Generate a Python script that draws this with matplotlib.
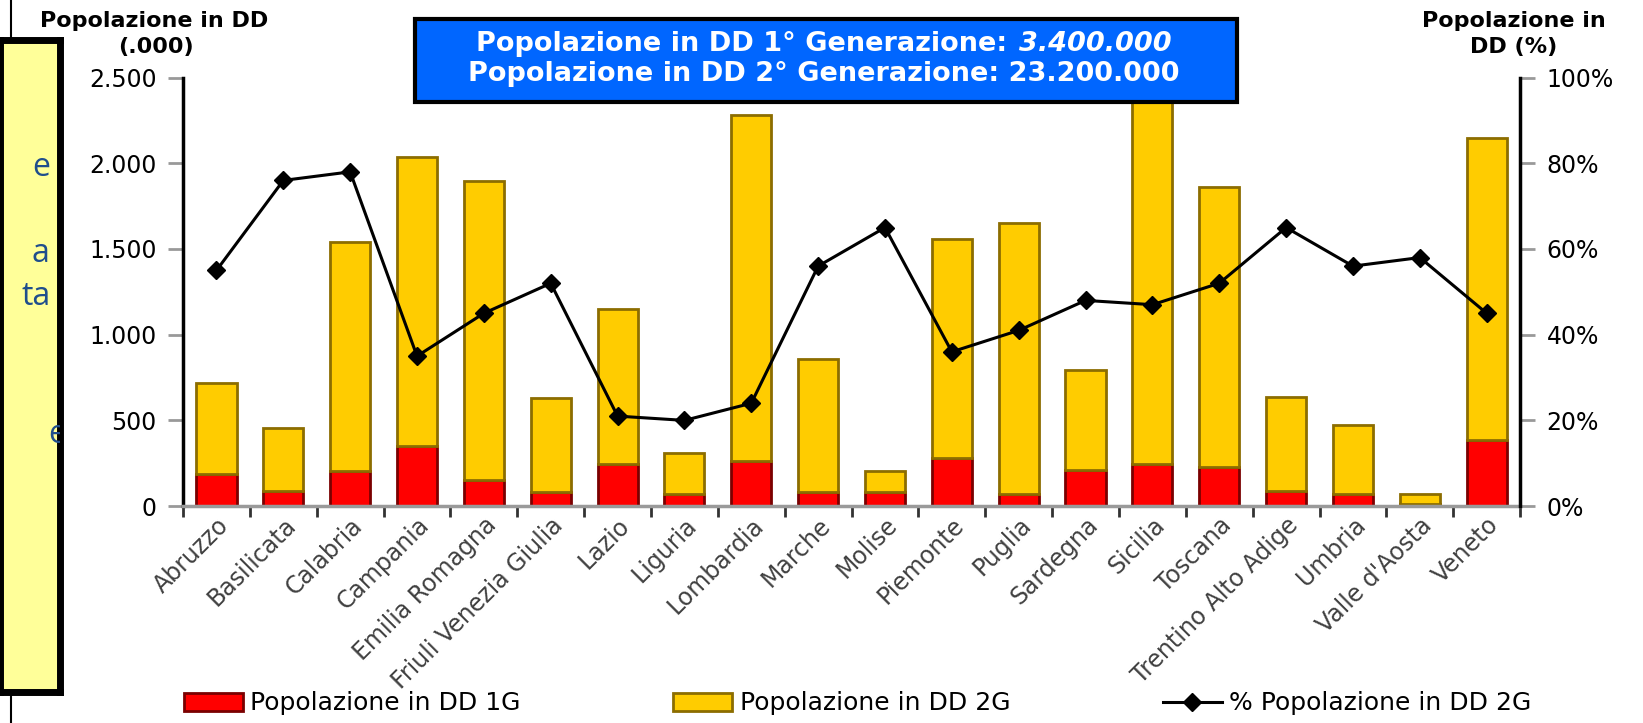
import numpy as np
import matplotlib
matplotlib.use("Agg")
import matplotlib.pyplot as plt
from matplotlib.patches import Rectangle, Patch
from matplotlib.lines import Line2D
from matplotlib.ticker import FuncFormatter
from matplotlib.transforms import ScaledTranslation

regioni = ["Abruzzo", "Basilicata", "Calabria", "Campania", "Emilia Romagna",
           "Friuli Venezia Giulia", "Lazio", "Liguria", "Lombardia", "Marche",
           "Molise", "Piemonte", "Puglia", "Sardegna", "Sicilia", "Toscana",
           "Trentino Alto Adige", "Umbria", "Valle d'Aosta", "Veneto"]
# popolazione in DD (.000)
pop_1g = [189, 91, 207, 348, 152, 85, 244, 73, 262, 85,
          85, 280, 73, 213, 244, 226, 91, 73, 12, 384]
pop_2g = [531, 366, 1336, 1689, 1744, 543, 908, 238, 2018, 775,
          122, 1281, 1579, 580, 2136, 1634, 543, 403, 61, 1762]
# % popolazione in DD 2G
perc_2g = [55, 76, 78, 35, 45, 52, 21, 20, 24, 56,
           65, 36, 41, 48, 47, 52, 65, 56, 58, 45]

plt.rcParams['font.family'] = ['DejaVu Sans']

fig = plt.figure(figsize=(16.43, 7.23), dpi=100)
ax = fig.add_axes([0.1114, 0.30, 0.8138, 0.5927])

x = np.arange(len(regioni))
w = 0.6
ax.bar(x, pop_1g, w, color='#FF0000', edgecolor='#7A0000', linewidth=2, zorder=2)
ax.bar(x, pop_2g, w, bottom=pop_1g, color='#FFCC00', edgecolor='#8C6D00',
       linewidth=2, zorder=2)

ax.set_xlim(-0.5, len(regioni) - 0.5)
ax.set_ylim(0, 2500)
ax.set_yticks(range(0, 2501, 500))
ax.yaxis.set_major_formatter(FuncFormatter(lambda v, p: f"{int(v):,}".replace(",", ".")))
ax.set_xticks(x)
ax.set_xticklabels(regioni, rotation=45, ha='right', rotation_mode='anchor',
                   fontsize=17, color='#404040')
for lbl in ax.get_xticklabels():
    lbl.set_transform(lbl.get_transform() + ScaledTranslation(-0.22, 0, fig.dpi_scale_trans))
ax.set_xticks(np.arange(len(regioni) + 1) - 0.5, minor=True)
ax.tick_params(axis='x', which='major', length=0, pad=5)
ax.tick_params(axis='x', which='minor', length=8, width=2, color='#333333')
ax.tick_params(axis='y', length=11, width=2, color='#999999', labelsize=17, pad=8)
ax.spines['top'].set_visible(False)
ax.spines['right'].set_visible(False)
ax.spines['left'].set_linewidth(2.5)
ax.spines['bottom'].set_color('#9a9a9a')
ax.spines['bottom'].set_linewidth(2.5)

ax2 = ax.twinx()
ax2.plot(x, np.array(perc_2g) / 100, color='black', lw=2.2, marker='D',
         markersize=9, zorder=3)
ax2.set_ylim(0, 1)
ax2.set_yticks(np.linspace(0, 1, 6))
ax2.yaxis.set_major_formatter(FuncFormatter(lambda v, p: f"{v * 100:.0f}%"))
ax2.tick_params(axis='y', length=11, width=2, color='#999999', labelsize=17, pad=8)
for s in ['top', 'left', 'bottom']:
    ax2.spines[s].set_visible(False)
ax2.spines['right'].set_linewidth(2.5)

# axis titles
fig.text(0.094, 0.971, "Popolazione in DD", ha='center', va='center',
         fontsize=16, fontweight='bold')
fig.text(0.095, 0.935, "(.000)", ha='center', va='center', fontsize=16, fontweight='bold')
fig.text(0.9215, 0.971, "Popolazione in", ha='center', va='center',
         fontsize=16, fontweight='bold')
fig.text(0.9215, 0.935, "DD (%)", ha='center', va='center', fontsize=16, fontweight='bold')

# blue title box
fig.patches.append(Rectangle((0.2526, 0.859), 0.5004, 0.115, transform=fig.transFigure,
                             facecolor='#0066FF', edgecolor='black', linewidth=3, zorder=5))
fig.text(0.619, 0.939, "Popolazione in DD 1° Generazione: ", ha='right', va='center',
         fontsize=19.5, fontweight='bold', color='white', zorder=6)
fig.text(0.620, 0.939, "3.400.000", ha='left', va='center', fontsize=19.5,
         fontweight='bold', fontstyle='italic', color='white', zorder=6)
fig.text(0.5015, 0.898, "Popolazione in DD 2° Generazione: 23.200.000", ha='center',
         va='center', fontsize=19.5, fontweight='bold', color='white', zorder=6)

# legend
handles = [Patch(facecolor='#FF0000', edgecolor='#7A0000', linewidth=2),
           Patch(facecolor='#FFCC00', edgecolor='#8C6D00', linewidth=2),
           Line2D([], [], color='black', lw=2.2, marker='D', markersize=9)]
labels = ["Popolazione in DD 1G", "Popolazione in DD 2G", "% Popolazione in DD 2G"]
fig.legend(handles, labels, loc='center', bbox_to_anchor=(0.522, 0.027), ncol=3,
           frameon=False, fontsize=18, handlelength=2.36, handleheight=0.75,
           handletextpad=0.3, columnspacing=6.1)

# cut-off yellow note on the left
fig.add_artist(Line2D([0.0064, 0.0064], [0, 1], transform=fig.transFigure,
                      color='black', lw=1.5, zorder=-1))
axn = fig.add_axes([0.0, 0.043, 0.0365, 0.902])
axn.set_facecolor('#FFFF99')
axn.set_xticks([])
axn.set_yticks([])
for s in axn.spines.values():
    s.set_linewidth(5)
blu = '#1F4E8C'
axn.text(0.83, 0.804, "e", ha='right', va='center', fontsize=23, color=blu,
         family='Open Sans', transform=axn.transAxes, clip_on=True)
axn.text(0.83, 0.672, "a", ha='right', va='center', fontsize=23, color=blu,
         family='Open Sans', transform=axn.transAxes, clip_on=True)
axn.text(0.85, 0.607, "ta", ha='right', va='center', fontsize=23, color=blu,
         family='Open Sans', transform=axn.transAxes, clip_on=True)
axn.text(0.80, 0.394, "e", ha='left', va='center', fontsize=23, color=blu,
         family='Open Sans', transform=axn.transAxes, clip_on=True)

fig.savefig("out.png", dpi=100)
